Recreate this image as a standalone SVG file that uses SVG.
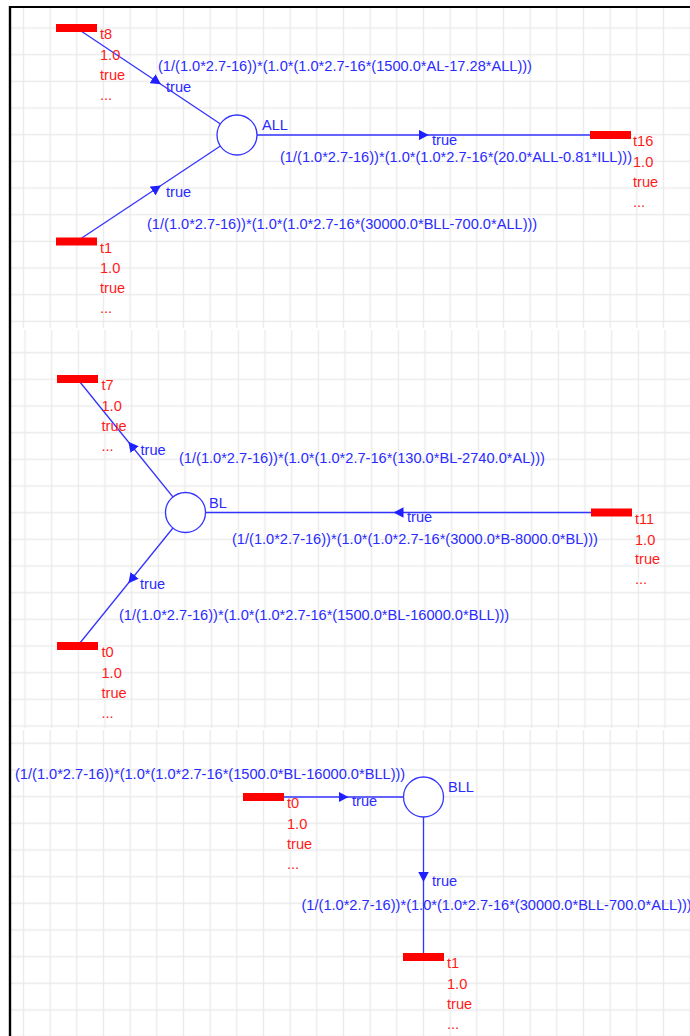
<svg xmlns="http://www.w3.org/2000/svg" width="690" height="1036" viewBox="0 0 690 1036">
  <style>
    .grid { stroke: #ebebeb; stroke-width: 1.4; fill: none; }
    .edge { stroke: #3434ff; stroke-width: 1.3; fill: none; marker-mid: url(#arrow); }
    .place { fill: #ffffff; stroke: #3434ff; stroke-width: 1.3; }
    .bar { fill: #ff0000; }
    text { font-family: "Liberation Sans", Arial, sans-serif; font-size: 14.6px; }
    .blue { fill: #2a2aff; }
    .red { fill: #ff1a1a; }
  </style>
  <defs>
    <pattern id="grid1" patternUnits="userSpaceOnUse" x="10.17" y="14.67" width="26.667" height="26.667">
      <path class="grid" d="M13.333,0 V26.667 M0,13.333 H26.667"/>
    </pattern>
    <pattern id="grid2" patternUnits="userSpaceOnUse" x="11.67" y="339.33" width="26.667" height="26.667">
      <path class="grid" d="M13.333,0 V26.667 M0,13.333 H26.667"/>
    </pattern>
    <pattern id="grid3" patternUnits="userSpaceOnUse" x="10.17" y="729.97" width="26.667" height="26.667">
      <path class="grid" d="M13.333,0 V26.667 M0,13.333 H26.667"/>
    </pattern>
    <marker id="arrow" markerUnits="userSpaceOnUse" viewBox="0 0 10 10.5" markerWidth="10" markerHeight="10.5" refX="5" refY="5.25" orient="auto">
      <path d="M0,0 L10,5.25 L0,10.5 z" fill="#2020ff"/>
    </marker>
  </defs>

  <!-- background and canvas grids -->
  <rect x="0" y="0" width="690" height="1036" fill="#ffffff"/>
  <rect x="11" y="8" width="679" height="320" fill="url(#grid1)"/>
  <rect x="11" y="330" width="679" height="398" fill="url(#grid2)"/>
  <rect x="11" y="730" width="679" height="306" fill="url(#grid3)"/>
  <line x1="9" y1="7" x2="690" y2="7" stroke="#000" stroke-width="2"/>
  <line x1="10" y1="6" x2="10" y2="1036" stroke="#000" stroke-width="2.4"/>

  <!-- arcs -->
  <g id="connectors">
    <path class="edge" d="M76.5,28 L156.75,81.5 L237,135"/>
    <path class="edge" d="M237,135 L423.75,135 L610.5,135"/>
    <path class="edge" d="M76.5,241.5 L156.75,188.25 L237,135"/>
    <path class="edge" d="M185.5,512.5 L131.5,445.75 L77.5,379"/>
    <path class="edge" d="M611.5,512.5 L398.5,512.5 L185.5,512.5"/>
    <path class="edge" d="M185.5,512.5 L131.5,579.25 L77.5,646"/>
    <path class="edge" d="M263.5,797 L343.5,797 L423.5,797"/>
    <path class="edge" d="M423.5,797 L423.5,877 L423.5,957"/>

    <text class="blue" x="158" y="71">(1/(1.0*2.7-16))*(1.0*(1.0*2.7-16*(1500.0*AL-17.28*ALL)))</text>
    <text class="blue" x="166" y="92">true</text>
    <text class="blue" x="432" y="145">true</text>
    <text class="blue" x="280" y="162">(1/(1.0*2.7-16))*(1.0*(1.0*2.7-16*(20.0*ALL-0.81*ILL)))</text>
    <text class="blue" x="166" y="197">true</text>
    <text class="blue" x="147" y="229">(1/(1.0*2.7-16))*(1.0*(1.0*2.7-16*(30000.0*BLL-700.0*ALL)))</text>

    <text class="blue" x="140.5" y="455">true</text>
    <text class="blue" x="179" y="463">(1/(1.0*2.7-16))*(1.0*(1.0*2.7-16*(130.0*BL-2740.0*AL)))</text>
    <text class="blue" x="407" y="522">true</text>
    <text class="blue" x="232" y="544">(1/(1.0*2.7-16))*(1.0*(1.0*2.7-16*(3000.0*B-8000.0*BL)))</text>
    <text class="blue" x="140" y="589">true</text>
    <text class="blue" x="119" y="620">(1/(1.0*2.7-16))*(1.0*(1.0*2.7-16*(1500.0*BL-16000.0*BLL)))</text>

    <text class="blue" x="15" y="779">(1/(1.0*2.7-16))*(1.0*(1.0*2.7-16*(1500.0*BL-16000.0*BLL)))</text>
    <text class="blue" x="352" y="806">true</text>
    <text class="blue" x="432" y="886">true</text>
    <text class="blue" x="301.5" y="910">(1/(1.0*2.7-16))*(1.0*(1.0*2.7-16*(30000.0*BLL-700.0*ALL)))</text>
  </g>

  <!-- places -->
  <g id="ALL">
    <circle class="place" cx="237" cy="135" r="20"/>
    <text class="blue" x="262" y="130">ALL</text>
  </g>
  <g id="BL">
    <circle class="place" cx="185.5" cy="512.5" r="20"/>
    <text class="blue" x="209" y="508">BL</text>
  </g>
  <g id="BLL">
    <circle class="place" cx="423.5" cy="797" r="20"/>
    <text class="blue" x="448" y="792">BLL</text>
  </g>

  <!-- transitions -->
  <g id="t8">
    <rect class="bar" x="56" y="24" width="41" height="8"/>
    <text class="red" x="100" y="39">t8</text>
    <text class="red" x="100" y="59.5">1.0</text>
    <text class="red" x="100" y="79.5">true</text>
    <text class="red" x="100" y="99.5">...</text>
  </g>
  <g id="t16">
    <rect class="bar" x="590" y="131" width="41" height="8"/>
    <text class="red" x="633" y="146">t16</text>
    <text class="red" x="633" y="166.5">1.0</text>
    <text class="red" x="633" y="186.5">true</text>
    <text class="red" x="633" y="206.5">...</text>
  </g>
  <g id="t1">
    <rect class="bar" x="56" y="237.5" width="41" height="8"/>
    <text class="red" x="100" y="252.5">t1</text>
    <text class="red" x="100" y="273">1.0</text>
    <text class="red" x="100" y="293">true</text>
    <text class="red" x="100" y="313">...</text>
  </g>
  <g id="t7">
    <rect class="bar" x="57" y="375" width="41" height="8"/>
    <text class="red" x="101.5" y="390">t7</text>
    <text class="red" x="101.5" y="410.5">1.0</text>
    <text class="red" x="101.5" y="430.5">true</text>
    <text class="red" x="101.5" y="450.5">...</text>
  </g>
  <g id="t11">
    <rect class="bar" x="591" y="508.5" width="41" height="8"/>
    <text class="red" x="635" y="524">t11</text>
    <text class="red" x="635" y="544.5">1.0</text>
    <text class="red" x="635" y="564">true</text>
    <text class="red" x="635" y="584">...</text>
  </g>
  <g id="t0">
    <rect class="bar" x="57" y="642" width="41" height="8"/>
    <text class="red" x="101.5" y="657">t0</text>
    <text class="red" x="101.5" y="677.5">1.0</text>
    <text class="red" x="101.5" y="697.5">true</text>
    <text class="red" x="101.5" y="717.5">...</text>
  </g>
  <g id="t0-b">
    <rect class="bar" x="243" y="793" width="41" height="8"/>
    <text class="red" x="287" y="808">t0</text>
    <text class="red" x="287" y="828.5">1.0</text>
    <text class="red" x="287" y="848.5">true</text>
    <text class="red" x="287" y="868.5">...</text>
  </g>
  <g id="t1-b">
    <rect class="bar" x="403" y="953" width="41" height="8"/>
    <text class="red" x="447" y="968">t1</text>
    <text class="red" x="447" y="988.5">1.0</text>
    <text class="red" x="447" y="1008.5">true</text>
    <text class="red" x="447" y="1028.5">...</text>
  </g>
</svg>
